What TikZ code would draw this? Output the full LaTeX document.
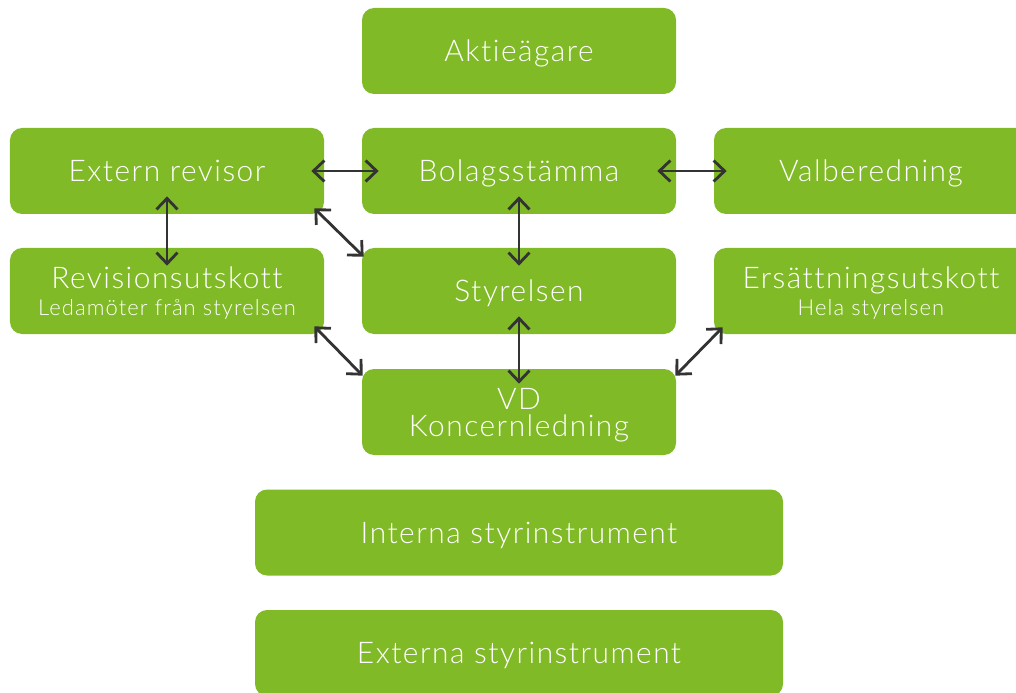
\documentclass[tikz,border=0pt]{standalone}
\usepackage{fontspec}
\setmainfont{Lato Light}[LetterSpace=5,Ligatures=CommonOff]
\usepackage{tikz}
\usetikzlibrary{arrows.meta,positioning,calc}
\definecolor{boxgreen}{HTML}{80BA27}
\definecolor{arrowgray}{HTML}{333333}
\tikzset{%
  orgbox/.style={%
    fill=boxgreen,
    draw=none,
    rounded corners=0.24cm,
    minimum width=6.28cm,
    minimum height=1.72cm,
    text=white,
    text depth=0pt,
    align=center,
    font=\fontsize{17}{15.4}\selectfont
  }
}
\tikzset{%
  widebox/.style={%
    orgbox,
    minimum width=10.56cm
  }
}
\tikzset{%
  twoway/.style={%
    draw=arrowgray,
    line width=1.6pt,
    {Straight Barb[length=0.22cm,width=0.42cm]}-{Straight Barb[length=0.22cm,width=0.42cm]}
  }
}
\newcommand{\subline}[1]{{\fontsize{12.5}{12}\selectfont #1}}

\begin{document}
\begin{tikzpicture}
  \useasboundingbox (0,0) rectangle (20.32,-13.86);
  \begin{scope}
  \clip (0,0) rectangle (20.32,-13.86);
  \node [orgbox] (agare) at (10.38, -1.02) {Aktieägare};
  \node [orgbox] (revisor) at (3.34, -3.42) {Extern revisor};
  \node [orgbox] (stamma) at (10.38, -3.42) {Bolagsstämma};
  \node [orgbox] (valber) at (17.42, -3.42) {Valberedning};
  \node [orgbox] (revutsk) at (3.34, -5.82) {Revisionsutskott\\\subline{Ledamöter från styrelsen}};
  \node [orgbox] (styrelsen) at (10.38, -5.82) {Styrelsen};
  \node [orgbox] (ersutsk) at (17.42, -5.82) {Ersättningsutskott\\\subline{Hela styrelsen}};
  \node [orgbox] (vd) at (10.38, -8.24) {VD\\Koncernledning};
  \node [widebox] (interna) at (10.38, -10.65) {Interna styrinstrument};
  \node [widebox] (externa) at (10.38, -13.06) {Externa styrinstrument};
  \end{scope}
  \draw [twoway, shorten <=-0.26cm, shorten >=-0.34cm] (revisor.east) -- (stamma.west);
  \draw [twoway, shorten <=-0.38cm, shorten >=-0.26cm] (stamma.east) -- (valber.west);
  \draw [twoway, shorten <=-0.36cm, shorten >=-0.36cm] (revisor.south) -- (revutsk.north);
  \draw [twoway, shorten <=-0.36cm, shorten >=-0.36cm] (stamma.south) -- (styrelsen.north);
  \draw [twoway, shorten <=-0.36cm, shorten >=-0.30cm] (styrelsen.south) -- (vd.north);
  \draw [twoway] ($(revisor.south east)+(-0.2,0.12)$) -- ($(styrelsen.north west)+(0.04,-0.18)$);
  \draw [twoway] ($(revutsk.south east)+(-0.2,0.16)$) -- ($(vd.north west)+(0.02,-0.14)$);
  \draw [twoway] ($(vd.north east)+(-0.02,-0.14)$) -- ($(ersutsk.south west)+(0.18,0.14)$);
\end{tikzpicture}
\end{document}
